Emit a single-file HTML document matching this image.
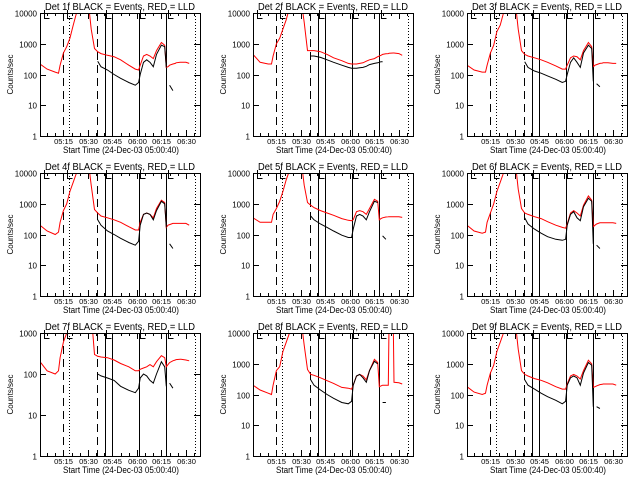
<!DOCTYPE html>
<html><head><meta charset="utf-8"><style>
html,body{margin:0;padding:0;background:#fff;}
svg{display:block;font-family:"Liberation Sans",sans-serif;}
</style></head><body>
<svg id="chart" width="640" height="480" viewBox="0 0 640 480" xmlns="http://www.w3.org/2000/svg">
<rect x="0" y="0" width="640" height="480" fill="#fff"/>
</svg>
<script>
// shared time axis (minutes after 05:00)
const times = [0.7,5,10,12,13,15,17,19,21,23,26,30,32,34,36,38,42,46,50,55,59,61,62,64,66,68,70,72,75,77,78,79,80,82,83.5,84,86.5,87,90,92];
const xTickLabels = ["05:15","05:30","05:45","06:00","06:15","06:30"];
const xTickTimes = [15,30,45,60,75,90];
const detNames = ["1f","2f","3f","4f","5f","6f","7f","8f","9f"];
const yMaxDecade = [4,4,4,4,4,4,3,4,4];
const dashedTimes = [14.8,35.5];
const dottedTimes = [18.4,95.6];
const solidTimes = [40.5,44.8,61.3,77.8];
const markerTimes = [3,17,41,62,79];
const n = null;
const red1 = [220,150,120,110,200,500,800,1500,4000,10000,30000,30000,3000,700,550,480,420,380,300,200,150,140,200,400,450,400,330,600,1100,900,170,180,200,220,230,240,250,250,250,230];
const blk1 = [n,n,n,n,n,n,n,n,n,n,n,n,n,n,270,180,140,100,75,55,45,55,100,250,300,250,180,450,900,800,170,n,45,30,n,n,n,n,n,n];
const red2 = [450,250,220,220,400,1000,1500,3000,6000,15000,30000,30000,5000,600,600,600,550,450,350,280,230,220,220,220,230,240,270,300,330,380,400,420,450,470,480,490,500,500,480,420];
const blk2 = [n,n,n,n,n,n,n,n,n,n,n,n,n,n,400,400,360,300,250,200,170,160,160,160,165,170,185,210,230,240,250,260,260,n,n,n,n,n,n,n];
const red3 = [200,140,120,120,200,500,900,2500,4000,10000,30000,30000,3000,600,450,400,350,300,250,190,150,150,200,350,400,380,300,600,1100,800,180,200,210,230,235,240,240,240,230,230];
const blk3 = [n,n,n,n,n,n,n,n,n,n,n,n,n,n,260,170,130,110,90,70,55,60,100,250,350,250,170,500,900,700,60,n,50,40,n,n,n,n,n,n];
const red4 = [200,130,100,120,250,600,1000,2500,5000,10000,30000,30000,4000,650,500,400,350,300,250,180,140,140,250,450,500,450,350,700,1300,1100,170,200,210,230,230,230,230,230,230,200];
const blk4 = [n,n,n,n,n,n,n,n,n,n,n,n,n,n,300,200,130,100,75,55,45,60,200,450,500,450,300,600,1200,1000,170,n,50,35,n,n,n,n,n,n];
const red5 = [350,250,250,250,450,700,1200,2500,6000,12000,30000,30000,4000,1100,900,750,600,500,420,330,290,280,300,550,600,550,450,700,1400,1200,300,330,350,370,375,380,380,380,380,360];
const blk5 = [n,n,n,n,n,n,n,n,n,n,n,n,n,n,400,300,220,170,130,95,80,80,150,400,450,400,300,550,1200,1100,n,n,90,70,n,n,n,n,n,n];
const red6 = [200,130,110,120,250,500,1000,2500,5000,10000,30000,30000,3000,700,500,450,380,330,260,200,170,160,220,500,600,500,400,900,1800,1300,180,200,220,240,240,240,240,240,240,230];
const blk6 = [n,n,n,n,n,n,n,n,n,n,n,n,n,n,350,220,150,110,85,70,65,70,200,450,550,350,280,800,1500,1200,50,n,45,35,n,n,n,n,n,n];
const red7 = [200,120,100,120,250,600,1000,2000,3000,5000,30000,30000,3000,300,270,260,250,220,180,150,120,120,130,140,150,170,150,200,280,250,150,170,190,210,220,225,230,230,220,210];
const blk7 = [n,n,n,n,n,n,n,n,n,n,n,n,n,n,100,90,80,70,50,40,35,45,80,100,90,70,60,100,200,150,50,n,60,45,n,n,n,n,n,n];
const red8 = [200,140,110,100,200,600,800,2500,5000,10000,30000,30000,4000,650,450,420,350,280,230,170,160,150,200,400,450,400,300,600,1400,1100,180,190,200,200,200,30000,30000,250,240,220];
const blk8 = [n,n,n,n,n,n,n,n,n,n,n,n,n,n,300,200,140,100,75,55,50,60,200,400,450,350,250,600,1200,1000,n,n,55,55,n,n,n,n,n,n];
const red9 = [180,120,100,110,200,500,900,2500,5000,10000,30000,30000,3000,600,450,400,330,290,240,180,150,150,220,400,450,400,320,600,1300,1000,170,180,190,210,215,220,220,220,220,200];
const blk9 = [n,n,n,n,n,n,n,n,n,n,n,n,n,n,300,200,150,110,85,65,50,60,200,350,400,350,200,500,1100,900,40,n,40,35,n,n,n,n,n,n];
const redSeries = [red1,red2,red3,red4,red5,red6,red7,red8,red9];
const blackSeries = [blk1,blk2,blk3,blk4,blk5,blk6,blk7,blk8,blk9];

const NS = "http://www.w3.org/2000/svg";
const svg = document.getElementById("chart");
const colLeft = [40,253,467], rowTop = [13,173,333];
const PW = 160, PH = 123;
const T0 = 0.67, T1 = 98.6;

function mk(tag, attrs, parent){
  const e = document.createElementNS(NS, tag);
  for (const k in attrs) e.setAttribute(k, attrs[k]);
  (parent||svg).appendChild(e);
  return e;
}

for (let p = 0; p < 9; p++) {
  const L = colLeft[p % 3], Tp = rowTop[Math.floor(p / 3)];
  const maxDec = yMaxDecade[p];
  const xs = t => L + (t - T0) / (T1 - T0) * PW;
  const ys = v => Tp + PH - Math.log10(Math.max(v, 0.5)) / maxDec * PH;
  const px = v => Math.round(v) + 0.5;
  const g = mk("g", {});
  
  
  const clipId = "c" + p;
  const cp = mk("clipPath", {id: clipId}, g);
  mk("rect", {x: L, y: Tp, width: PW, height: PH}, cp);

  const title = mk("text", {x: L + PW/2, y: Tp - 3, "text-anchor": "middle", "font-size": "10", textLength: "150", lengthAdjust: "spacingAndGlyphs"}, g);
  title.textContent = "Det " + detNames[p] + " BLACK = Events, RED = LLD";
  
  

  const yt = mk("text", {x: 0, y: 0, transform: "translate(" + (L - 27) + "," + (Tp + PH/2) + ") rotate(-90)", "text-anchor": "middle", "font-size": "8"}, g);
  yt.textContent = "Counts/sec";
  
  

  const xt = mk("text", {x: L + 81, y: Tp + PH + 17, "text-anchor": "middle", "font-size": "9", textLength: "116", lengthAdjust: "spacingAndGlyphs"}, g);
  xt.textContent = "Start Time (24-Dec-03 05:00:40)";
  
  

  for (let d = 0; d <= maxDec; d++) {
    const y = px(ys(Math.pow(10, d)));
    const lab = mk("text", {x: L - 3, y: y + 3, "text-anchor": "end", "font-size": "8"}, g);
    lab.textContent = String(Math.pow(10, d));
    
    
    mk("line", {x1: L, x2: L + 6, y1: y, y2: y, stroke: "#000", "shape-rendering": "crispEdges"}, g);
    mk("line", {x1: L + PW - 6, x2: L + PW, y1: y, y2: y, stroke: "#000", "shape-rendering": "crispEdges"}, g);
  }
  for (let i = 0; i < xTickTimes.length; i++) {
    const x = px(xs(xTickTimes[i]));
    const lab = mk("text", {x: x, y: Tp + PH + 8, "text-anchor": "middle", "font-size": "7.5"}, g);
    lab.textContent = xTickLabels[i];
    
    
    mk("line", {x1: x, x2: x, y1: Tp + PH, y2: Tp + PH - 6, stroke: "#000", "shape-rendering": "crispEdges"}, g);
    mk("line", {x1: x, x2: x, y1: Tp, y2: Tp + 6, stroke: "#000", "shape-rendering": "crispEdges"}, g);
  }
  for (let t = 5; t < T1; t += 5) {
    if (t % 15 === 0) continue;
    const x = px(xs(t));
    mk("line", {x1: x, x2: x, y1: Tp + PH, y2: Tp + PH - 3, stroke: "#000", "shape-rendering": "crispEdges"}, g);
    mk("line", {x1: x, x2: x, y1: Tp, y2: Tp + 3, stroke: "#000", "shape-rendering": "crispEdges"}, g);
  }

  dashedTimes.forEach(t => { const x = px(xs(t)); const l = mk("line", {x1: x, x2: x, y1: Tp, y2: Tp + PH, stroke: "#000", "stroke-dasharray": "8,5", "shape-rendering": "crispEdges"}, g);   });
  dottedTimes.forEach(t => { const x = px(xs(t)); const l = mk("line", {x1: x, x2: x, y1: Tp, y2: Tp + PH, stroke: "#000", "stroke-dasharray": "1,2", "shape-rendering": "crispEdges"}, g);   });
  solidTimes.forEach(t => { const x = px(xs(t)); const l = mk("line", {x1: x, x2: x, y1: Tp, y2: Tp + PH, stroke: "#000", "shape-rendering": "crispEdges"}, g);   });
  markerTimes.forEach(t => { const x = px(xs(t)); mk("path", {d: "M" + x + "," + (Tp - 3) + " V" + (Tp + 5.5) + " H" + (x + 5), stroke: "#000", fill: "none", "shape-rendering": "crispEdges"}, g); });

  function drawSeries(vals, color, name) {
    let d = "", pen = false;
    for (let i = 0; i < times.length; i++) {
      const v = vals[i];
      if (v === null) { pen = false; continue; }
      d += (pen ? " L" : " M") + xs(times[i]).toFixed(1) + "," + ys(v).toFixed(1);
      pen = true;
    }
    const path = mk("path", {d: d, stroke: color, "stroke-width": "1", fill: "none", "clip-path": "url(#" + clipId + ")"}, g);
    
    
  }
  drawSeries(redSeries[p], "#f00", "lld-series-red");
  drawSeries(blackSeries[p], "#000", "events-series-black");

  const frame = mk("rect", {x: L + 0.5, y: Tp + 0.5, width: PW, height: PH, fill: "none", stroke: "#000", "shape-rendering": "crispEdges"}, g);
  
  
}
</script>
</body></html>
